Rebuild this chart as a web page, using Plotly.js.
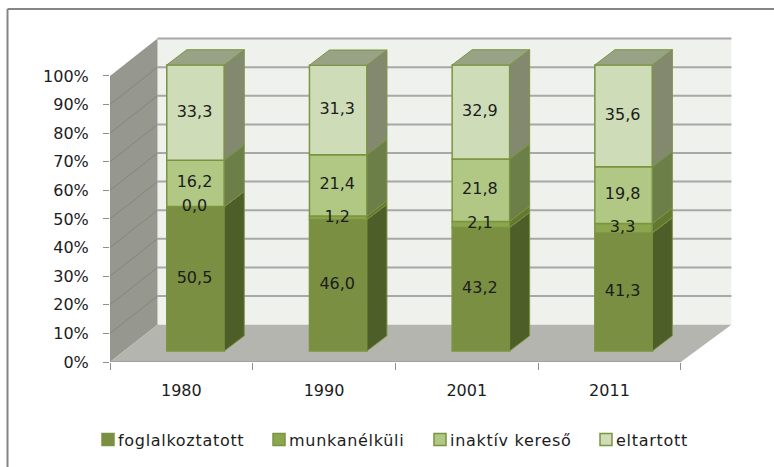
<!DOCTYPE html>
<html>
<head>
<meta charset="utf-8">
<script src="https://cdn.plot.ly/plotly-3.0.1.min.js"></script>
<style>
html,body{margin:0;padding:0;background:#fff}
#chart .legendtext{letter-spacing:0.7px}
</style>
</head>
<body>
<div id="chart" style="width:774px;height:467px"></div>
<script>
// --- data ---
const categories = ['1980', '1990', '2001', '2011'];
const foglalkoztatott = [50.5, 46.0, 43.2, 41.3];
const munkanelkuli = [0.0, 1.2, 2.1, 3.3];
const inaktivKereso = [16.2, 21.4, 21.8, 19.8];
const eltartott = [33.3, 31.3, 32.9, 35.6];
const seriesNames = ['foglalkoztatott', 'munkanélküli', 'inaktív kereső', 'eltartott'];
const seriesValues = [foglalkoztatott, munkanelkuli, inaktivKereso, eltartott];
const percentTicks = [0, 10, 20, 30, 40, 50, 60, 70, 80, 90, 100];

// --- styles ---
const frontColors = ['#7a8f41', '#8ba64e', '#b1c884', '#cfdcb8'];
const sideColors = ['#4e5e28', '#62782f', '#6c7f49', '#82896f'];
const topColor = '#97a384';
const edgeColor = '#7b9440';
const textColor = '#1c1c1c';
const fontFamily = '"DejaVu Sans", sans-serif';

// --- pseudo-3D geometry, in axis units ---
const pxX = 142.7, pxY = 2.872;
const L = 110, R = 735, T = 30, B = 363.3;
const xMin = -0.5, xMax = xMin + (R - L) / pxX;
const yMax = (B - T) / pxY;
const wallDxL = 47.5 / pxX, wallDxR = 50.6 / pxX, wallDy = 37.5 / pxY;
const barDx = 14.15 / pxX, barDy = 11 / pxY, barW = 57.5 / pxX;
const depthX = 20 / pxX, depthY = 15.3 / pxY;

const xs = categories.map((_, i) => i);
const barX = xs.map(i => i + barDx);

// cumulative stack bases
const bases = [];
seriesValues.forEach((vals, s) => {
  bases.push(vals.map((v, i) => s === 0 ? barDy : bases[s - 1][i] + seriesValues[s - 1][i]));
});

// walls, floor and grid as shapes beneath the traces
const path = pts => 'M' + pts.map(p => p[0] + ',' + p[1]).join('L') + 'Z';
const shapes = [];
const addFill = (pts, color) => shapes.push({type: 'path', layer: 'below', xref: 'x', yref: 'y',
  path: path(pts), fillcolor: color, line: {width: 0}});
const addLine = (x0, y0, x1, y1, color, width) => shapes.push({type: 'line', layer: 'below', xref: 'x', yref: 'y',
  x0, y0, x1, y1, line: {color, width}});
addFill([[xMin + wallDxL, wallDy], [3.5 + wallDxR, wallDy], [3.5 + wallDxR, 100 + wallDy], [xMin + wallDxL, 100 + wallDy]], '#eff1ec');
addFill([[xMin, 0], [xMin + wallDxL, wallDy], [xMin + wallDxL, 100 + wallDy], [xMin, 100]], '#969890');
addFill([[xMin, 0], [3.5, 0], [3.5 + wallDxR, wallDy], [xMin + wallDxL, wallDy]], '#b3b5ae');
percentTicks.forEach(v => {
  if (v > 0) addLine(xMin + wallDxL, v + wallDy, 3.5 + wallDxR, v + wallDy, '#a8a8a8', 2);
  if (v > 0 && v < 100) addLine(xMin, v, xMin + wallDxL, v + wallDy, '#83857d', 1);
});
addLine(xMin, 0, 3.5, 0, '#a2a39e', 2);
addLine(xMin, 0, xMin, 100, '#8e8e8e', 1);
// outer chart frame
const fx = px => (px - L) / (R - L), fy = px => (B - px) / (B - T);
[[7.5, 9, 790, 9], [7.5, 9, 7.5, 480]].forEach(f => shapes.push({type: 'line', layer: 'below',
  xref: 'paper', yref: 'paper', x0: fx(f[0]), y0: fy(f[1]), x1: fx(f[2]), y1: fy(f[3]),
  line: {color: '#868686', width: 2}}));

const traces = [];
// front faces
seriesValues.forEach((vals, s) => traces.push({
  type: 'bar', name: seriesNames[s], x: barX, y: vals, base: bases[s], width: barW,
  marker: {color: frontColors[s], line: {color: edgeColor, width: 1.5}},
  hoverinfo: 'skip', cliponaxis: false
}));
// side faces
seriesValues.forEach((vals, s) => {
  const px = [], py = [];
  vals.forEach((v, i) => {
    const xr = barX[i] + barW / 2, lo = bases[s][i], hi = lo + v;
    px.push(xr, xr + depthX, xr + depthX, xr, xr, null);
    py.push(lo, lo + depthY, hi + depthY, hi, lo, null);
  });
  traces.push({type: 'scatter', mode: 'lines', x: px, y: py, fill: 'toself', fillcolor: sideColors[s],
    line: {color: edgeColor, width: 1}, showlegend: false, hoverinfo: 'skip'});
});
// top faces
{
  const last = seriesValues.length - 1, px = [], py = [];
  eltartott.forEach((v, i) => {
    const xl = barX[i] - barW / 2, xr = barX[i] + barW / 2, hi = bases[last][i] + v;
    px.push(xl, xr, xr + depthX, xl + depthX, xl, null);
    py.push(hi, hi, hi + depthY, hi + depthY, hi, null);
  });
  traces.push({type: 'scatter', mode: 'lines', x: px, y: py, fill: 'toself', fillcolor: topColor,
    line: {color: edgeColor, width: 1}, showlegend: false, hoverinfo: 'skip'});
}
// value labels
seriesValues.forEach((vals, s) => traces.push({
  type: 'scatter', mode: 'text', x: barX.map(v => v - 0.007), y: vals.map((v, i) => bases[s][i] + v / 2),
  text: vals.map(v => v.toFixed(1).replace('.', ',')), textposition: 'middle center',
  textfont: {family: fontFamily, size: 16, color: textColor},
  showlegend: false, hoverinfo: 'skip', cliponaxis: false
}));

const layout = {
  width: 774, height: 467,
  margin: {l: L, r: 774 - R, t: T, b: 467 - B, pad: 0},
  paper_bgcolor: '#ffffff', plot_bgcolor: 'rgba(0,0,0,0)',
  barmode: 'overlay',
  font: {family: fontFamily, size: 16, color: textColor},
  showlegend: true,
  legend: {orientation: 'h', x: fx(78), xanchor: 'left', y: fy(440), yanchor: 'middle',
    entrywidth: 121, entrywidthmode: 'pixels',
    font: {family: fontFamily, size: 16, color: textColor}, bgcolor: 'rgba(0,0,0,0)'},
  xaxis: {
    range: [xMin, xMax], tickmode: 'array', tickvals: xs, ticktext: categories, ticks: '',
    ticklabelstandoff: 17, showgrid: false, zeroline: false, showline: false, fixedrange: true,
    minor: {tickmode: 'array', tickvals: [-0.5, 0.5, 1.5, 2.5, 3.5], ticks: 'outside', ticklen: 7, tickwidth: 1, tickcolor: '#8e8e8e', showgrid: false}
  },
  yaxis: {
    range: [0, yMax], tickmode: 'array', tickvals: percentTicks, ticktext: percentTicks.map(v => v + '%'),
    ticks: 'outside', ticklen: 6, tickwidth: 1, tickcolor: '#8e8e8e', ticklabelstandoff: 11,
    showgrid: false, zeroline: false, showline: false, fixedrange: true
  },
  shapes
};

Plotly.newPlot('chart', traces, layout, {displayModeBar: false, staticPlot: true}).then(() => {
  // Swatches sit closer to their labels in this chart's legend.
  document.querySelectorAll('#chart .legend .legendsymbols').forEach(g => g.setAttribute('transform', 'translate(10,0)'));
  // The second legend entry sits a little further right than even spacing gives.
  const entry = document.querySelectorAll('#chart .legend .traces')[1];
  if (entry) {
    const m = /translate\(([-\d.]+),\s*([-\d.]+)\)/.exec(entry.getAttribute('transform') || '');
    if (m) entry.setAttribute('transform', 'translate(' + (parseFloat(m[1]) + 5) + ',' + m[2] + ')');
  }
});
</script>
</body>
</html>
